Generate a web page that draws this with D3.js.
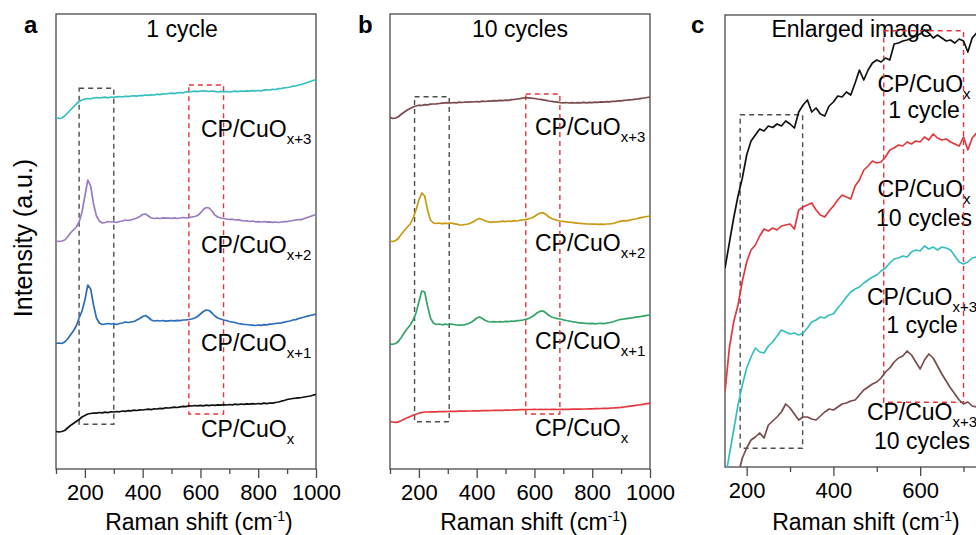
<!DOCTYPE html>
<html>
<head>
<meta charset="utf-8">
<script src="https://cdn.jsdelivr.net/npm/d3@7"></script>
<style>
  body { margin: 0; background: #fff; }
  svg { display: block; font-family: "Liberation Sans", Arial, sans-serif; }
</style>
</head>
<body>
<svg id="chart" width="976" height="535"></svg>
<script>
// Raman shift grid for panels a and b (cm-1)
const abX = [
  100, 110, 120, 130, 140, 150, 160, 170, 180, 190,
  200, 210, 220, 230, 240, 250, 260, 270, 280, 290,
  300, 310, 320, 330, 340, 350, 360, 370, 380, 390,
  400, 410, 420, 430, 440, 450, 460, 470, 480, 490,
  500, 510, 520, 530, 540, 550, 560, 570, 580, 590,
  600, 610, 620, 630, 640, 650, 660, 670, 680, 690,
  700, 710, 720, 730, 740, 750, 760, 770, 780, 790,
  800, 810, 820, 830, 840, 850, 860, 870, 880, 890,
  900, 910, 920, 930, 940, 950, 960, 970, 980, 990,
  1000
];

// panel a: 1 cycle (stacked intensities, a.u.)
const aCuOx3 = [
  351.5, 350.5, 351, 353, 356, 359, 362, 365, 367.5, 369,
  370, 370.5, 370.2, 371, 371.5, 371, 371.4, 371.8, 371.2, 372,
  371.7, 372.2, 372.5, 372, 372.8, 372.4, 373, 373.2, 372.8, 373.5,
  373.3, 374, 373.7, 374.2, 374, 374.8, 374.4, 375.2, 375, 375.5,
  375.8, 375.4, 376.2, 376.5, 376.2, 377.2, 377, 377.5, 377.8, 377.4,
  378, 378.2, 377.8, 377.5, 378, 377.7, 377, 377.6, 377.2, 377.5,
  377, 377.4, 377.8, 377.4, 378, 377.7, 378.2, 377.8, 378.4, 378.2,
  378.5, 378.2, 378.8, 379.2, 379, 379.7, 379.5, 380.4, 380.5, 381.2,
  381.5, 382, 382.8, 383, 384, 384.5, 385.5, 386.5, 387.5, 388.5,
  389.5
];
const aCuOx2 = [
  228, 227.5, 228, 229, 232, 236, 239, 242, 247, 257,
  273, 289, 283, 265, 253, 248, 246, 246.5, 247.5, 247,
  247.2, 246.5, 247.5, 248, 249, 248.5, 249.2, 250, 251, 252.5,
  254.5, 255, 253, 251, 250.5, 251, 250.5, 251.2, 250.8, 251,
  250.7, 251.2, 250.5, 251, 251.5, 251, 251.4, 252, 252.5, 253.5,
  256, 259.5, 261.5, 261, 258, 254, 252, 251, 250.5, 250,
  249.5, 249.8, 249, 249.4, 248.6, 248, 248.2, 247.5, 248, 247.2,
  247.4, 247, 247.5, 246.8, 247.2, 246.7, 247, 246.5, 247, 247.5,
  247.3, 248, 248.5, 248.8, 249.5, 249.4, 250.5, 251.5, 252.5, 253.5,
  254.5
];
const aCuOx1 = [
  125.5, 126, 125.5, 127, 130, 134, 138, 143, 151, 158,
  169, 184, 180, 164, 151, 146, 144.5, 145, 145.5, 145,
  145.5, 144.5, 145.5, 146, 147, 146.5, 147, 147.5, 149, 150.5,
  152.5, 153.5, 151.5, 149, 148, 148.5, 148, 148.5, 147.8, 148.2,
  148.5, 148.1, 148.7, 148.4, 149, 149.2, 149.5, 150, 151, 152.5,
  155, 157.5, 159, 158.5, 156, 153, 151, 150, 149, 148.5,
  147.5, 147, 146.5, 145.5, 145.2, 144.5, 144.5, 144, 143.8, 143.5,
  144, 143.6, 144.4, 144.2, 144.8, 145, 145.5, 145.8, 146.2, 146.8,
  147.5, 148, 149, 149.4, 150.5, 151.2, 152, 152.8, 153.5, 154.2,
  155
];
const aCuOx = [
  37.5, 37, 37.5, 38.5, 41, 43.5, 45.5, 47.5, 49.5, 52,
  53.5, 55, 55.5, 56, 55.8, 56.5, 56.2, 56.8, 56.4, 57.2,
  57, 57.5, 57.2, 58, 57.7, 58.4, 58.2, 58.8, 58.5, 59.2,
  59, 59.5, 59.8, 59.4, 60.2, 60, 60.6, 60.4, 61.2, 61,
  61.4, 61.8, 61.5, 62.2, 62.6, 62.4, 63.2, 63, 63.5, 63.2,
  63.6, 63.2, 63.8, 63.4, 64, 63.6, 64.2, 63.8, 64.4, 64,
  64.5, 64.2, 64.8, 64.4, 65, 64.6, 65.2, 64.8, 65.4, 65,
  65.5, 65.2, 65.8, 65.4, 66, 65.8, 66.5, 67, 67.8, 68.5,
  69.5, 70, 70.5, 70.8, 71.2, 71.5, 72, 72.5, 73, 73.8,
  74.5
];

// panel b: 10 cycles
const bCuOx3 = [
  351.7, 350.5, 351, 352.5, 355, 357, 359, 360.5, 362, 363,
  363.8, 363.5, 364.4, 364.2, 364.8, 365, 365.2, 365.5, 365.8, 366.1,
  366.4, 366, 366.5, 366.2, 366.8, 366.5, 367, 366.8, 367.2, 367,
  367.5, 367.2, 367.8, 367.5, 368, 367.8, 368.4, 368.1, 368.6, 368.4,
  368.9, 368.7, 369.4, 369.5, 370, 370.4, 371, 371.4, 371.2, 370.8,
  370.5, 370, 369.7, 369.2, 368.6, 368, 367.6, 367.2, 366.8, 366.4,
  366.2, 366.5, 366, 366.3, 366, 366.4, 366.1, 366.6, 366.2, 366.7,
  366.4, 366.8, 366.6, 367.1, 366.9, 367.4, 367.2, 367.7, 367.6, 368.2,
  368.1, 368.6, 368.8, 369.1, 369.3, 369.8, 370.1, 370.6, 371, 371.5,
  372
];
const bCuOx2 = [
  228, 227.5, 228.5, 231, 235, 238.5, 242, 245, 251, 259,
  269, 276, 273, 259, 249, 246, 245.5, 246, 245.2, 245.8,
  245.5, 246, 245.4, 244.8, 244.2, 244, 244.5, 245, 246, 247.5,
  249.5, 250.5, 249.5, 248, 247.2, 246.7, 247.2, 247, 247.4, 247.8,
  247.4, 248, 247.6, 248.4, 248, 248.8, 249, 249.4, 250.2, 251,
  252.5, 254.5, 256, 256.3, 254.5, 252, 250.5, 249.5, 248.5, 248,
  247.6, 247.2, 246.8, 246.6, 246.2, 245.8, 245.6, 245.3, 245.1, 245,
  244.8, 245, 244.7, 244.9, 244.6, 245, 245.2, 245.5, 246.2, 247.2,
  247.8, 248.4, 248.2, 248.8, 249.6, 250, 250.8, 251.4, 252, 252.5,
  253
];
const bCuOx1 = [
  125, 124.7, 125.5, 128, 132, 136.5, 140.5, 144, 149, 156,
  167, 178, 177, 163, 151, 146, 144.5, 145, 144.2, 144.8,
  144.4, 145, 144.5, 144, 143.8, 144, 144.4, 145.2, 146.5, 148.5,
  151, 152, 150.5, 148.5, 147.5, 147, 147.4, 147, 147.4, 147,
  147.6, 147.3, 148, 147.7, 148.4, 148.6, 149, 149.6, 150.5, 152,
  154, 156.2, 157.8, 158, 156, 153.5, 152, 151, 150.4, 150,
  149.2, 148.5, 148, 147.4, 147, 146.4, 146.2, 145.8, 145.6, 145.4,
  145.6, 145.2, 145.5, 145.7, 145.4, 146, 146.4, 147, 148, 149,
  149.6, 150, 150.4, 150.8, 151.2, 151.8, 152.2, 152.6, 153.2, 153.6,
  154
];
const bCuOx = [
  47.3, 47, 46.7, 47.2, 48.5, 50, 51.2, 52.5, 53.7, 54.8,
  55.8, 56.5, 57, 57, 57.1, 57.2, 57.2, 57.3, 57.4, 57.4,
  57.5, 57.6, 57.6, 57.7, 57.8, 57.8, 57.9, 58, 58, 58.1,
  58.2, 58.2, 58.3, 58.4, 58.4, 58.5, 58.6, 58.6, 58.7, 58.7,
  58.8, 58.9, 59, 59.1, 59.2, 59.3, 59.4, 59.4, 59.5, 59.5,
  59.6, 59.5, 59.6, 59.5, 59.6, 59.5, 59.6, 59.6, 59.5, 59.6,
  59.6, 59.7, 59.7, 59.8, 59.8, 59.9, 59.9, 60, 60, 60.1,
  60.2, 60.3, 60.4, 60.5, 60.6, 60.7, 60.8, 61, 61.2, 61.4,
  61.6, 62, 62.4, 62.8, 63.2, 63.6, 64, 64.4, 64.8, 65.3,
  65.7
];

// panel c: enlarged image
const cX = [
  150, 160, 170, 180, 190, 200, 210, 220, 230, 240,
  250, 260, 270, 280, 290, 300, 310, 320, 330, 340,
  350, 360, 370, 380, 390, 400, 410, 420, 430, 440,
  450, 460, 470, 480, 490, 500, 510, 520, 530, 540,
  550, 560, 570, 580, 590, 600, 610, 620, 630, 640,
  650, 660, 670, 680, 690, 700, 710, 720, 730, 740
];
const cCuOx1 = [
  199, 224, 249, 271, 289, 312, 326, 332, 338, 336,
  341, 339.5, 343, 341, 346, 343, 339, 355, 362, 367,
  355, 359, 353, 351, 361, 365, 371, 370, 375, 372,
  384, 397, 387, 397, 404, 407, 405, 409, 407, 423,
  424, 426, 427, 429, 431, 433, 437, 434, 429, 432,
  429, 426, 427, 424, 428, 426, 415, 429, 434, 432
];
const cCuOx10 = [
  75, 119, 145, 162, 186, 205, 217, 222, 231, 238,
  236, 239, 237, 241, 242, 243, 238, 257, 260, 262,
  264, 257, 252, 250, 256, 261, 267, 272, 270, 268,
  281, 287, 297, 301, 306, 304, 305, 310, 317, 319,
  322, 321, 325, 323, 326, 325, 330, 327, 333, 329,
  327, 328, 325, 323, 321, 330, 317, 329, 334, 333
];
const cCuOx3c1 = [
  -13, 12, 37, 62, 82, 99, 110, 119, 115, 114,
  121, 125, 131, 137, 135, 133, 134, 132, 134, 139,
  145, 147, 150, 149, 152, 153, 159, 164, 170, 175,
  178, 180, 184, 187, 190, 192, 196, 199, 204, 208,
  209, 211, 210, 215, 217, 216, 221, 218, 220, 217,
  220, 219, 217, 211, 205, 203, 205, 209, 210, 212
];
const cBrownX = [
  180, 190, 200, 210, 220, 230, 240, 250, 260, 270,
  280, 290, 300, 310, 320, 330, 340, 350, 360, 370,
  380, 390, 400, 410, 420, 430, 440, 450, 460, 470,
  480, 490, 500, 510, 520, 530, 540, 550, 560, 570,
  580, 590, 600, 610, 620, 630, 640, 650, 660, 670,
  680, 690, 700, 710, 720, 730, 740
];
const cCuOx3c10 = [
  -8, 9, 19, 27, 30, 34, 29, 42, 46, 50,
  55, 63, 59, 53, 47, 50, 50, 48, 47, 51,
  55, 58, 57, 60, 63, 64, 66, 67, 72, 77,
  80, 83, 85, 89, 95, 99, 105, 109, 111, 116,
  112, 105, 98, 107, 113, 109, 101, 93, 86, 79,
  73, 67, 63, 65, 61, 60, 59
];

const abMajor = [200, 400, 600, 800, 1000];
const abMinor = [100, 300, 500, 700, 900];
const cMajor = [200, 400, 600];
const cMinor = [300, 500, 700];

const col = {
  cyan: '#35bfc0', purple: '#9a7cc0', blue: '#2b6cbb', black: '#111111',
  brown: '#7a4a4c', gold: '#c89a12', green: '#34a46a', red: '#e4383f',
  axis: '#4a4a4a', boxDash: '#4d4d4d', redDash: '#e8333d'
};

const svg = d3.select('#chart');
const font = '"Liberation Sans", Arial, sans-serif';

// sample label with subscript
function addLabel(g, x, y, sub, anchor) {
  const t = g.append('text')
    .attr('x', x).attr('y', y)
    .attr('font-size', 23)
    .attr('text-anchor', anchor || 'start')
    .attr('fill', '#000');
  t.append('tspan').text('CP/CuO');
  t.append('tspan').attr('font-size', 15).attr('dy', 7).text(sub);
  return t;
}

function drawPanel(p) {
  const x = d3.scaleLinear().domain(p.xDomain).range([p.left, p.right]);
  const y = d3.scaleLinear().domain(p.yDomain).range([p.bottom, p.top]);
  const g = svg.append('g');

  const clipId = 'clip-' + p.id;
  svg.append('defs').append('clipPath').attr('id', clipId)
    .append('rect')
    .attr('x', p.left).attr('y', p.top)
    .attr('width', p.right - p.left).attr('height', p.bottom - p.top);

  // frame
  g.append('rect')
    .attr('x', p.left).attr('y', p.top)
    .attr('width', p.right - p.left).attr('height', p.bottom - p.top)
    .attr('fill', 'none').attr('stroke', col.axis).attr('stroke-width', 1.3);

  // x axis, major and minor ticks
  const ax = g.append('g').attr('transform', `translate(0,${p.bottom})`)
    .call(d3.axisBottom(x).tickValues(p.major).tickSize(9).tickSizeOuter(0).tickPadding(6).tickFormat(d3.format('d')));
  ax.select('.domain').remove();
  ax.selectAll('line').attr('stroke', col.axis).attr('stroke-width', 1.3);
  ax.selectAll('text').attr('font-size', 22).attr('font-family', font).attr('fill', '#000');

  const mx = g.append('g').attr('transform', `translate(0,${p.bottom})`)
    .call(d3.axisBottom(x).tickValues(p.minor).tickSize(5).tickSizeOuter(0).tickFormat(''));
  mx.select('.domain').remove();
  mx.selectAll('line').attr('stroke', col.axis).attr('stroke-width', 1.3);

  // x label
  const xl = g.append('text')
    .attr('x', p.xLabelX).attr('y', 530)
    .attr('text-anchor', 'middle').attr('font-size', 23).attr('fill', '#000');
  xl.append('tspan').text('Raman shift (cm');
  xl.append('tspan').attr('font-size', 14).attr('dy', -9).text('-1');
  xl.append('tspan').attr('dy', 9).text(')');

  // panel letter and title
  g.append('text').attr('x', p.letterX).attr('y', 33)
    .attr('font-size', 24).attr('font-weight', 'bold').text(p.letter);
  g.append('text').attr('x', p.titleX).attr('y', 37)
    .attr('text-anchor', 'middle').attr('font-size', 23).text(p.title);

  // labels
  p.labels.forEach(l => {
    if (l.line2) {
      addLabel(g, l.x, l.y, l.sub, 'middle');
      g.append('text').attr('x', l.x).attr('y', l.y2)
        .attr('text-anchor', 'middle').attr('font-size', 23).text(l.line2);
    } else {
      addLabel(g, l.x, l.y, l.sub, 'start');
    }
  });

  // dashed boxes
  p.boxes.forEach(b => {
    g.append('rect')
      .attr('x', x(b.x0)).attr('y', y(b.y1))
      .attr('width', x(b.x1) - x(b.x0)).attr('height', y(b.y0) - y(b.y1))
      .attr('fill', 'none').attr('stroke', b.color)
      .attr('stroke-width', 1.4).attr('stroke-dasharray', '5,4');
  });

  // spectra
  const line = d3.line().x(d => x(d[0])).y(d => y(d[1]));
  const lg = g.append('g').attr('clip-path', `url(#${clipId})`);
  p.series.forEach(s => {
    lg.append('path')
      .datum(d3.zip(s.x, s.y))
      .attr('d', line)
      .attr('fill', 'none')
      .attr('stroke', s.color)
      .attr('stroke-width', 1.7)
      .attr('stroke-linejoin', 'round');
  });
}

// y axis title
svg.append('text')
  .attr('transform', 'translate(32,238) rotate(-90)')
  .attr('text-anchor', 'middle').attr('font-size', 25).text('Intensity (a.u.)');

drawPanel({
  id: 'a', left: 56, right: 316, top: 14, bottom: 469,
  xDomain: [100, 1000], yDomain: [0, 455],
  major: abMajor, minor: abMinor,
  letter: 'a', letterX: 24, title: '1 cycle', titleX: 182, xLabelX: 199,
  labels: [
    { x: 201, y: 137, sub: 'x+3' },
    { x: 201, y: 253, sub: 'x+2' },
    { x: 201, y: 351, sub: 'x+1' },
    { x: 201, y: 437, sub: 'x' }
  ],
  boxes: [
    { x0: 180, x1: 300, y0: 44.7, y1: 380.7, color: col.boxDash },
    { x0: 560, x1: 680, y0: 55, y1: 384, color: col.redDash }
  ],
  series: [
    { x: abX, y: aCuOx3, color: col.cyan },
    { x: abX, y: aCuOx2, color: col.purple },
    { x: abX, y: aCuOx1, color: col.blue },
    { x: abX, y: aCuOx, color: col.black }
  ]
});

drawPanel({
  id: 'b', left: 390, right: 650, top: 14, bottom: 469,
  xDomain: [100, 1000], yDomain: [0, 455],
  major: abMajor, minor: abMinor,
  letter: 'b', letterX: 358, title: '10 cycles', titleX: 520, xLabelX: 534,
  labels: [
    { x: 535, y: 135, sub: 'x+3' },
    { x: 535, y: 251, sub: 'x+2' },
    { x: 535, y: 349, sub: 'x+1' },
    { x: 535, y: 436, sub: 'x' }
  ],
  boxes: [
    { x0: 185, x1: 305, y0: 47.3, y1: 372.3, color: col.boxDash },
    { x0: 570, x1: 688, y0: 55, y1: 375, color: col.redDash }
  ],
  series: [
    { x: abX, y: bCuOx3, color: col.brown },
    { x: abX, y: bCuOx2, color: col.gold },
    { x: abX, y: bCuOx1, color: col.green },
    { x: abX, y: bCuOx, color: col.red }
  ]
});

drawPanel({
  id: 'c', left: 725, right: 980, top: 15, bottom: 467,
  xDomain: [150, 738], yDomain: [0, 452],
  major: cMajor, minor: cMinor,
  letter: 'c', letterX: 691, title: 'Enlarged image', titleX: 852, xLabelX: 866,
  labels: [
    { x: 924, y: 92, sub: 'x', line2: '1 cycle', y2: 118 },
    { x: 924, y: 197, sub: 'x', line2: '10 cycles', y2: 226 },
    { x: 922, y: 305, sub: 'x+3', line2: '1 cycle', y2: 333 },
    { x: 922, y: 420, sub: 'x+3', line2: '10 cycles', y2: 449 }
  ],
  boxes: [
    { x0: 185, x1: 329, y0: 18.7, y1: 352.3, color: col.boxDash },
    { x0: 516, x1: 700, y0: 64.7, y1: 436.3, color: col.redDash }
  ],
  series: [
    { x: cX, y: cCuOx1, color: col.black },
    { x: cX, y: cCuOx10, color: col.red },
    { x: cX, y: cCuOx3c1, color: col.cyan },
    { x: cBrownX, y: cCuOx3c10, color: col.brown }
  ]
});
</script>
</body>
</html>
